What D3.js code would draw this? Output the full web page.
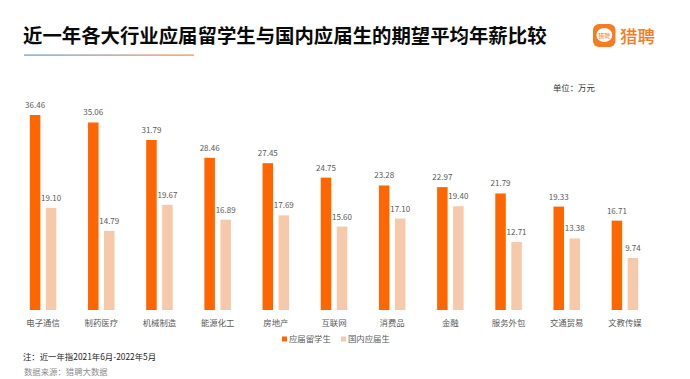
<!DOCTYPE html>
<html>
<head>
<meta charset="utf-8">
<script src="https://cdn.jsdelivr.net/npm/d3@7"></script>
<style>
  html, body { margin: 0; padding: 0; background: #fff; }
  svg { display: block; }
  text { font-family: "Noto Sans CJK SC", "Noto Sans", sans-serif; }
  .tick line, .domain { display: none; }
</style>
</head>
<body>
<svg id="chart"></svg>
<script>
var categories = ['电子通信', '制药医疗', '机械制造', '能源化工', '房地产', '互联网', '消费品', '金融', '服务外包', '交通贸易', '文教传媒'];
var overseas = [36.46, 35.06, 31.79, 28.46, 27.45, 24.75, 23.28, 22.97, 21.79, 19.33, 16.71];
var domestic = [19.10, 14.79, 19.67, 16.89, 17.69, 15.60, 17.10, 19.40, 12.71, 13.38, 9.74];
var seriesNames = ['应届留学生', '国内应届生'];
var colors = ['#ff6600', '#f7c9ab'];

var width = 690, height = 379;
var svg = d3.select('#chart').attr('width', width).attr('height', height);

var defs = svg.append('defs');
var grad = defs.append('linearGradient').attr('id', 'titleline');
grad.append('stop').attr('offset', '0%').attr('stop-color', '#5b9bd5');
grad.append('stop').attr('offset', '100%').attr('stop-color', '#f58a4b');

svg.append('text')
  .attr('x', 23).attr('y', 43)
  .attr('font-size', 19.4).attr('font-weight', 700).attr('fill', '#0a0a0a')
  .text('近一年各大行业应届留学生与国内应届生的期望平均年薪比较');

svg.append('rect')
  .attr('x', 24).attr('y', 54.5).attr('width', 170).attr('height', 1.2)
  .attr('fill', 'url(#titleline)');

// logo
var logo = svg.append('g');
logo.append('rect').attr('x', 593).attr('y', 24).attr('width', 22.5).attr('height', 23).attr('rx', 6).attr('fill', '#f57c20');
logo.append('ellipse').attr('cx', 604.3).attr('cy', 35).attr('rx', 8).attr('ry', 7).attr('fill', '#fff');
logo.append('text').attr('x', 604.3).attr('y', 37.5).attr('text-anchor', 'middle')
  .attr('font-size', 6).attr('fill', '#f57c20').text('猎聘');
logo.append('text').attr('x', 620).attr('y', 43)
  .attr('font-size', 17.5).attr('font-weight', 500).attr('fill', '#f57c20').text('猎聘');

svg.append('text')
  .attr('x', 553).attr('y', 91)
  .attr('font-size', 8.4).attr('fill', '#333')
  .text('单位：万元');

var x = d3.scaleBand().domain(categories).range([14, 654]);
var y = d3.scaleLinear().domain([0, 36.46]).range([310, 115]);
var barW = 10.5;
var offset = 8;

var chart = svg.append('g');

[overseas, domestic].forEach(function(vals, s) {
  var cx = function(i) {
    return x(categories[i]) + x.bandwidth() / 2 + (s === 0 ? -offset : offset);
  };
  chart.selectAll('.bar' + s)
    .data(vals)
    .enter().append('rect')
    .attr('class', 'bar' + s)
    .attr('x', function(d, i) { return cx(i) - barW / 2; })
    .attr('y', function(d) { return y(d); })
    .attr('width', barW)
    .attr('height', function(d) { return y(0) - y(d); })
    .attr('fill', colors[s]);

  chart.selectAll('.lab' + s)
    .data(vals)
    .enter().append('text')
    .attr('class', 'lab' + s)
    .attr('x', function(d, i) { return cx(i); })
    .attr('y', function(d) { return y(d) - 7; })
    .attr('text-anchor', 'middle')
    .attr('font-size', 8).attr('fill', '#595959')
    .text(function(d) { return d.toFixed(2); });
});

var xAxis = svg.append('g')
  .attr('transform', 'translate(0,310)')
  .call(d3.axisBottom(x).tickSize(0).tickPadding(10));
xAxis.selectAll('text')
  .attr('font-size', 8.4)
  .attr('fill', '#595959')
  .style('font-family', '"Noto Sans CJK SC", sans-serif');

// legend
var legendX = [282, 341];
seriesNames.forEach(function(name, s) {
  svg.append('rect')
    .attr('x', legendX[s]).attr('y', 336.5).attr('width', 5).attr('height', 5)
    .attr('fill', colors[s]);
  svg.append('text')
    .attr('x', legendX[s] + 7).attr('y', 342)
    .attr('font-size', 8.4).attr('fill', '#595959')
    .text(name);
});

svg.append('text')
  .attr('x', 23).attr('y', 360)
  .attr('font-size', 8.4).attr('fill', '#222')
  .text('注：近一年指2021年6月-2022年5月');
svg.append('text')
  .attr('x', 24).attr('y', 375)
  .attr('font-size', 8.4).attr('fill', '#8c8c8c')
  .text('数据来源：猎聘大数据');
</script>
</body>
</html>
